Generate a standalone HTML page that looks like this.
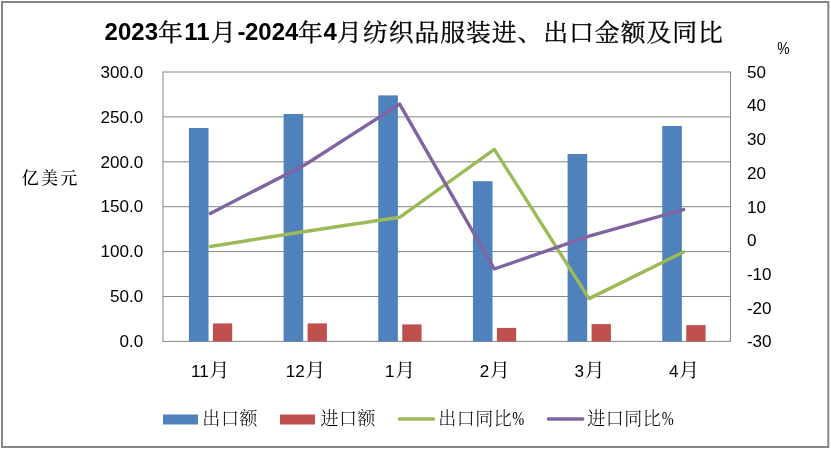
<!DOCTYPE html>
<html lang="zh-CN"><head><meta charset="utf-8"><title>2023年11月-2024年4月纺织品服装进、出口金额及同比</title>
<style>
html,body{margin:0;padding:0;background:#fff}
body{width:831px;height:450px;overflow:hidden}
svg{display:block;will-change:transform;transform:translateZ(0)}
text{white-space:pre;fill:#000}
.lat{font-family:"Liberation Sans","Noto Serif CJK SC",sans-serif}
.cjk{font-family:"Liberation Serif","Noto Serif CJK SC",serif}
</style>
</head><body>
<svg width="831" height="450" viewBox="0 0 831 450">
<rect x="0" y="0" width="831" height="450" fill="#fff"/>
<rect x="2" y="2" width="826.3" height="445" fill="#fff" stroke="#868686" stroke-width="2"/>
<g stroke="#868686" stroke-width="1" fill="none">
<line x1="163.0" y1="72.00" x2="730.5" y2="72.00"/>
<line x1="163.0" y1="116.90" x2="730.5" y2="116.90"/>
<line x1="163.0" y1="161.80" x2="730.5" y2="161.80"/>
<line x1="163.0" y1="206.70" x2="730.5" y2="206.70"/>
<line x1="163.0" y1="251.60" x2="730.5" y2="251.60"/>
<line x1="163.0" y1="296.50" x2="730.5" y2="296.50"/>
<line x1="163.0" y1="341.40" x2="730.5" y2="341.40"/>
<line x1="163.0" y1="71.5" x2="163.0" y2="341.9"/>
<line x1="730.5" y1="71.5" x2="730.5" y2="341.9"/>
</g>
<g fill="#4F81BD">
<rect x="188.93" y="128.0" width="19.6" height="213.40"/>
<rect x="283.60" y="114.0" width="19.6" height="227.40"/>
<rect x="378.27" y="95.4" width="19.6" height="246.00"/>
<rect x="472.93" y="181.2" width="19.6" height="160.20"/>
<rect x="567.60" y="154.0" width="19.6" height="187.40"/>
<rect x="662.27" y="126.0" width="19.6" height="215.40"/>
</g>
<g fill="#C0504D">
<rect x="212.93" y="323.4" width="19.3" height="18.00"/>
<rect x="307.60" y="323.4" width="19.3" height="18.00"/>
<rect x="402.27" y="324.4" width="19.3" height="17.00"/>
<rect x="496.93" y="327.9" width="19.3" height="13.50"/>
<rect x="591.60" y="324.1" width="19.3" height="17.30"/>
<rect x="686.27" y="325.1" width="19.3" height="16.30"/>
</g>
<polyline points="210.33,246.5 305.00,231.5 399.67,217.3 494.33,149.4 589.00,298.6 683.67,252.0" fill="none" stroke="#9BBB59" stroke-width="3.4" stroke-linejoin="round" stroke-linecap="round"/>
<polyline points="210.33,213.4 305.00,164.8 399.67,104.1 494.33,269.0 589.00,236.2 683.67,209.6" fill="none" stroke="#8064A2" stroke-width="3.4" stroke-linejoin="round" stroke-linecap="round"/>
<text class="lat" transform="translate(143.30,77.70) scale(1.0800,1)" font-size="15.8" text-anchor="end" font-weight="400">300.0</text>
<text class="lat" transform="translate(143.30,122.60) scale(1.0800,1)" font-size="15.8" text-anchor="end" font-weight="400">250.0</text>
<text class="lat" transform="translate(143.30,167.50) scale(1.0800,1)" font-size="15.8" text-anchor="end" font-weight="400">200.0</text>
<text class="lat" transform="translate(143.30,212.40) scale(1.0800,1)" font-size="15.8" text-anchor="end" font-weight="400">150.0</text>
<text class="lat" transform="translate(143.30,257.30) scale(1.0800,1)" font-size="15.8" text-anchor="end" font-weight="400">100.0</text>
<text class="lat" transform="translate(143.30,302.20) scale(1.0800,1)" font-size="15.8" text-anchor="end" font-weight="400">50.0</text>
<text class="lat" transform="translate(143.30,347.10) scale(1.0800,1)" font-size="15.8" text-anchor="end" font-weight="400">0.0</text>
<text class="lat" transform="translate(746.90,77.80) scale(1.0800,1)" font-size="15.8" text-anchor="start" font-weight="400">50</text>
<text class="lat" transform="translate(746.90,111.47) scale(1.0800,1)" font-size="15.8" text-anchor="start" font-weight="400">40</text>
<text class="lat" transform="translate(746.90,145.15) scale(1.0800,1)" font-size="15.8" text-anchor="start" font-weight="400">30</text>
<text class="lat" transform="translate(746.90,178.82) scale(1.0800,1)" font-size="15.8" text-anchor="start" font-weight="400">20</text>
<text class="lat" transform="translate(746.90,212.50) scale(1.0800,1)" font-size="15.8" text-anchor="start" font-weight="400">10</text>
<text class="lat" transform="translate(746.90,246.18) scale(1.0800,1)" font-size="15.8" text-anchor="start" font-weight="400">0</text>
<text class="lat" transform="translate(746.90,279.85) scale(1.0800,1)" font-size="15.8" text-anchor="start" font-weight="400">-10</text>
<text class="lat" transform="translate(746.90,313.52) scale(1.0800,1)" font-size="15.8" text-anchor="start" font-weight="400">-20</text>
<text class="lat" transform="translate(746.90,347.20) scale(1.0800,1)" font-size="15.8" text-anchor="start" font-weight="400">-30</text>
<text class="lat" transform="translate(191.05,376.50) scale(1.0800,1)" font-size="15.8" text-anchor="start" font-weight="400">11<tspan class="cjk" font-size="19" dx="0.2" y="0.8">月</tspan></text>
<text class="lat" transform="translate(285.71,376.50) scale(1.0800,1)" font-size="15.8" text-anchor="start" font-weight="400">12<tspan class="cjk" font-size="19" dx="0.2" y="0.8">月</tspan></text>
<text class="lat" transform="translate(385.12,376.50) scale(1.0800,1)" font-size="15.8" text-anchor="start" font-weight="400">1<tspan class="cjk" font-size="19" dx="0.2" y="0.8">月</tspan></text>
<text class="lat" transform="translate(479.79,376.50) scale(1.0800,1)" font-size="15.8" text-anchor="start" font-weight="400">2<tspan class="cjk" font-size="19" dx="0.2" y="0.8">月</tspan></text>
<text class="lat" transform="translate(574.46,376.50) scale(1.0800,1)" font-size="15.8" text-anchor="start" font-weight="400">3<tspan class="cjk" font-size="19" dx="0.2" y="0.8">月</tspan></text>
<text class="lat" transform="translate(669.12,376.50) scale(1.0800,1)" font-size="15.8" text-anchor="start" font-weight="400">4<tspan class="cjk" font-size="19" dx="0.2" y="0.8">月</tspan></text>
<text class="cjk" transform="translate(21.70,183.50)" font-size="17" text-anchor="start" font-weight="500" letter-spacing="2.3">亿美元</text>
<text class="lat" transform="translate(777.20,54.30) scale(0.8800,1)" font-size="15.8" text-anchor="start" font-weight="400">%</text>
<rect x="163" y="414.5" width="35" height="10" fill="#4F81BD"/>
<text class="cjk" transform="translate(202.30,425.00)" font-size="18" text-anchor="start" font-weight="300" letter-spacing="0.6">出口额</text>
<rect x="280" y="414.5" width="35" height="10" fill="#C0504D"/>
<text class="cjk" transform="translate(320.60,425.00)" font-size="18" text-anchor="start" font-weight="300" letter-spacing="0.4">进口额</text>
<line x1="399.3" y1="419" x2="433.6" y2="419" stroke="#9BBB59" stroke-width="3.4" stroke-linecap="round"/>
<text class="cjk" transform="translate(438.20,425.00)" font-size="18" text-anchor="start" font-weight="300" letter-spacing="0.5">出口同比<tspan font-size="19.5" letter-spacing="0" font-weight="400" textLength="12" lengthAdjust="spacingAndGlyphs" x="74.09999999999997" y="0.3">%</tspan></text>
<line x1="548.4" y1="419" x2="582.8" y2="419" stroke="#8064A2" stroke-width="3.4" stroke-linecap="round"/>
<text class="cjk" transform="translate(587.30,425.00)" font-size="18" text-anchor="start" font-weight="300" letter-spacing="0.5">进口同比<tspan font-size="19.5" letter-spacing="0" font-weight="400" textLength="12" lengthAdjust="spacingAndGlyphs" x="74.5" y="0.3">%</tspan></text>
<text class="lat" transform="translate(0.00,40.40) scale(1.0350,1)" font-size="23.2" text-anchor="start" font-weight="700"><tspan x="101.06" y="0">2023</tspan><tspan class="cjk" font-size="24" font-weight="400" stroke="#000" stroke-width="0.3" letter-spacing="0.92" x="152.56" y="0.5">年</tspan><tspan x="177.97" y="0">11</tspan><tspan class="cjk" font-size="24" font-weight="400" stroke="#000" stroke-width="0.3" letter-spacing="0.92" x="203.77" y="0.5">月</tspan><tspan x="229.57" y="0">-</tspan><tspan x="236.71" y="0">2024</tspan><tspan class="cjk" font-size="24" font-weight="400" stroke="#000" stroke-width="0.3" letter-spacing="0.92" x="287.83" y="0.5">年</tspan><tspan x="312.46" y="0">4</tspan><tspan class="cjk" font-size="24" font-weight="400" stroke="#000" stroke-width="0.3" letter-spacing="0.92" x="325.70" y="0.5">月</tspan><tspan class="cjk" font-size="24" font-weight="400" stroke="#000" stroke-width="0.3" letter-spacing="0.92" x="350.63" y="0.5">纺织品服装进、出口金额及同比</tspan></text>
</svg>
</body></html>
